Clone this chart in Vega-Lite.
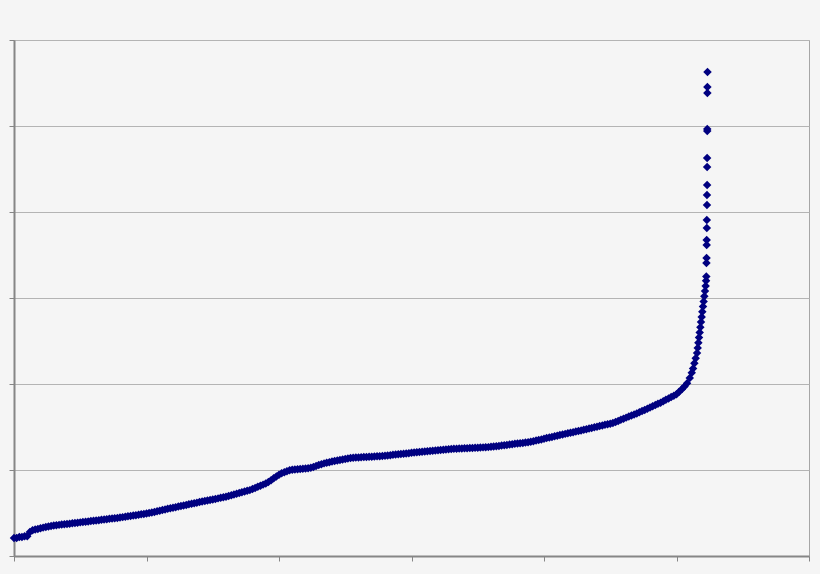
{
  "$schema": "https://vega.github.io/schema/vega-lite/v6.json",
  "width": 795,
  "height": 516,
  "autosize": {"type": "none"},
  "padding": {"left": 14, "top": 40, "right": 11, "bottom": 18},
  "background": "#f5f5f5",
  "config": {"view": {"stroke": "#a6a6a6", "strokeWidth": 1}},
  "data": {
    "values": [
      {"x":0.00,"y":0.21},{"x":0.02,"y":0.21},{"x":0.04,"y":0.22},{"x":0.06,"y":0.22},{"x":0.08,"y":0.23},{"x":0.10,"y":0.23},
      {"x":0.12,"y":0.28},{"x":0.14,"y":0.30},{"x":0.16,"y":0.308},{"x":0.18,"y":0.315},{"x":0.20,"y":0.322},{"x":0.22,"y":0.330},
      {"x":0.24,"y":0.337},{"x":0.26,"y":0.344},{"x":0.28,"y":0.350},{"x":0.30,"y":0.354},{"x":0.32,"y":0.358},{"x":0.34,"y":0.362},
      {"x":0.36,"y":0.365},{"x":0.38,"y":0.369},{"x":0.40,"y":0.373},{"x":0.42,"y":0.376},{"x":0.44,"y":0.380},{"x":0.46,"y":0.384},
      {"x":0.48,"y":0.387},{"x":0.50,"y":0.391},{"x":0.52,"y":0.395},{"x":0.54,"y":0.398},{"x":0.56,"y":0.402},{"x":0.58,"y":0.406},
      {"x":0.60,"y":0.410},{"x":0.62,"y":0.413},{"x":0.64,"y":0.417},{"x":0.66,"y":0.421},{"x":0.68,"y":0.424},{"x":0.70,"y":0.428},
      {"x":0.72,"y":0.432},{"x":0.74,"y":0.435},{"x":0.76,"y":0.439},{"x":0.78,"y":0.443},{"x":0.80,"y":0.447},{"x":0.82,"y":0.452},
      {"x":0.84,"y":0.457},{"x":0.86,"y":0.461},{"x":0.88,"y":0.466},{"x":0.90,"y":0.471},{"x":0.92,"y":0.475},{"x":0.94,"y":0.480},
      {"x":0.96,"y":0.485},{"x":0.98,"y":0.489},{"x":1.00,"y":0.494},{"x":1.02,"y":0.499},{"x":1.04,"y":0.505},{"x":1.06,"y":0.512},
      {"x":1.08,"y":0.520},{"x":1.10,"y":0.527},{"x":1.12,"y":0.534},{"x":1.14,"y":0.541},{"x":1.16,"y":0.549},{"x":1.18,"y":0.555},
      {"x":1.20,"y":0.562},{"x":1.22,"y":0.568},{"x":1.24,"y":0.575},{"x":1.26,"y":0.581},{"x":1.28,"y":0.588},{"x":1.30,"y":0.594},
      {"x":1.32,"y":0.601},{"x":1.34,"y":0.607},{"x":1.36,"y":0.614},{"x":1.38,"y":0.620},{"x":1.40,"y":0.627},{"x":1.42,"y":0.633},
      {"x":1.44,"y":0.639},{"x":1.46,"y":0.645},{"x":1.48,"y":0.651},{"x":1.50,"y":0.658},{"x":1.52,"y":0.664},{"x":1.54,"y":0.670},
      {"x":1.56,"y":0.676},{"x":1.58,"y":0.682},{"x":1.60,"y":0.689},{"x":1.62,"y":0.698},{"x":1.64,"y":0.707},{"x":1.66,"y":0.715},
      {"x":1.68,"y":0.724},{"x":1.70,"y":0.732},{"x":1.72,"y":0.741},{"x":1.74,"y":0.749},{"x":1.76,"y":0.758},{"x":1.78,"y":0.766},
      {"x":1.80,"y":0.779},{"x":1.82,"y":0.792},{"x":1.84,"y":0.805},{"x":1.86,"y":0.818},{"x":1.88,"y":0.830},{"x":1.90,"y":0.843},
      {"x":1.92,"y":0.861},{"x":1.94,"y":0.882},{"x":1.96,"y":0.903},{"x":1.98,"y":0.924},{"x":2.00,"y":0.945},{"x":2.02,"y":0.961},
      {"x":2.04,"y":0.973},{"x":2.06,"y":0.986},{"x":2.08,"y":0.998},{"x":2.10,"y":1.003},{"x":2.12,"y":1.006},{"x":2.14,"y":1.009},
      {"x":2.16,"y":1.012},{"x":2.18,"y":1.015},{"x":2.20,"y":1.018},{"x":2.22,"y":1.021},{"x":2.24,"y":1.026},{"x":2.26,"y":1.036},
      {"x":2.28,"y":1.047},{"x":2.30,"y":1.057},{"x":2.32,"y":1.067},{"x":2.34,"y":1.077},{"x":2.36,"y":1.085},{"x":2.38,"y":1.091},
      {"x":2.40,"y":1.098},{"x":2.42,"y":1.104},{"x":2.44,"y":1.110},{"x":2.46,"y":1.116},{"x":2.48,"y":1.123},{"x":2.50,"y":1.129},
      {"x":2.52,"y":1.135},{"x":2.54,"y":1.140},{"x":2.56,"y":1.142},{"x":2.58,"y":1.144},{"x":2.60,"y":1.146},{"x":2.62,"y":1.148},
      {"x":2.64,"y":1.150},{"x":2.66,"y":1.152},{"x":2.68,"y":1.153},{"x":2.70,"y":1.155},{"x":2.72,"y":1.157},{"x":2.74,"y":1.159},
      {"x":2.76,"y":1.161},{"x":2.78,"y":1.163},{"x":2.80,"y":1.166},{"x":2.82,"y":1.169},{"x":2.84,"y":1.172},{"x":2.86,"y":1.176},
      {"x":2.88,"y":1.179},{"x":2.90,"y":1.183},{"x":2.92,"y":1.186},{"x":2.94,"y":1.190},{"x":2.96,"y":1.193},{"x":2.98,"y":1.196},
      {"x":3.00,"y":1.200},{"x":3.02,"y":1.203},{"x":3.04,"y":1.206},{"x":3.06,"y":1.209},{"x":3.08,"y":1.212},{"x":3.10,"y":1.215},
      {"x":3.12,"y":1.218},{"x":3.14,"y":1.221},{"x":3.16,"y":1.224},{"x":3.18,"y":1.227},{"x":3.20,"y":1.230},{"x":3.22,"y":1.233},
      {"x":3.24,"y":1.236},{"x":3.26,"y":1.239},{"x":3.28,"y":1.242},{"x":3.30,"y":1.245},{"x":3.32,"y":1.246},{"x":3.34,"y":1.248},
      {"x":3.36,"y":1.249},{"x":3.38,"y":1.251},{"x":3.40,"y":1.252},{"x":3.42,"y":1.254},{"x":3.44,"y":1.255},{"x":3.46,"y":1.257},
      {"x":3.48,"y":1.258},{"x":3.50,"y":1.260},{"x":3.52,"y":1.262},{"x":3.54,"y":1.263},{"x":3.56,"y":1.265},{"x":3.58,"y":1.266},
      {"x":3.60,"y":1.269},{"x":3.62,"y":1.272},{"x":3.64,"y":1.276},{"x":3.66,"y":1.280},{"x":3.68,"y":1.284},{"x":3.70,"y":1.288},
      {"x":3.72,"y":1.292},{"x":3.74,"y":1.296},{"x":3.76,"y":1.300},{"x":3.78,"y":1.304},{"x":3.80,"y":1.308},{"x":3.82,"y":1.312},
      {"x":3.84,"y":1.315},{"x":3.86,"y":1.319},{"x":3.88,"y":1.323},{"x":3.90,"y":1.328},{"x":3.92,"y":1.335},{"x":3.94,"y":1.342},
      {"x":3.96,"y":1.349},{"x":3.98,"y":1.356},{"x":4.00,"y":1.363},{"x":4.02,"y":1.371},{"x":4.04,"y":1.378},{"x":4.06,"y":1.385},
      {"x":4.08,"y":1.392},{"x":4.10,"y":1.399},{"x":4.12,"y":1.406},{"x":4.14,"y":1.413},{"x":4.16,"y":1.420},{"x":4.18,"y":1.427},
      {"x":4.20,"y":1.433},{"x":4.22,"y":1.440},{"x":4.24,"y":1.447},{"x":4.26,"y":1.454},{"x":4.28,"y":1.460},{"x":4.30,"y":1.467},
      {"x":4.32,"y":1.474},{"x":4.34,"y":1.482},{"x":4.36,"y":1.489},{"x":4.38,"y":1.496},{"x":4.40,"y":1.503},{"x":4.42,"y":1.511},
      {"x":4.44,"y":1.518},{"x":4.46,"y":1.525},{"x":4.48,"y":1.532},{"x":4.50,"y":1.539},{"x":4.52,"y":1.547},{"x":4.54,"y":1.559},
      {"x":4.56,"y":1.571},{"x":4.58,"y":1.584},{"x":4.60,"y":1.596},{"x":4.62,"y":1.609},{"x":4.64,"y":1.621},{"x":4.66,"y":1.634},
      {"x":4.68,"y":1.646},{"x":4.70,"y":1.658},{"x":4.72,"y":1.671},{"x":4.74,"y":1.685},{"x":4.76,"y":1.699},{"x":4.78,"y":1.713},
      {"x":4.80,"y":1.727},{"x":4.82,"y":1.741},{"x":4.84,"y":1.755},{"x":4.86,"y":1.769},{"x":4.88,"y":1.783},{"x":4.90,"y":1.799},
      {"x":4.92,"y":1.816},{"x":4.94,"y":1.832},{"x":4.96,"y":1.848},{"x":4.98,"y":1.864},{"x":5.00,"y":1.88},{"x":5.02,"y":1.91},
      {"x":5.04,"y":1.94},{"x":5.06,"y":1.97},{"x":5.08,"y":2.01},{"x":5.10,"y":2.07},{"x":5.115,"y":2.13},{"x":5.125,"y":2.18},
      {"x":5.135,"y":2.24},{"x":5.145,"y":2.30},{"x":5.155,"y":2.36},{"x":5.16,"y":2.42},{"x":5.165,"y":2.48},{"x":5.17,"y":2.54},
      {"x":5.175,"y":2.60},{"x":5.18,"y":2.66},{"x":5.185,"y":2.72},{"x":5.19,"y":2.78},{"x":5.195,"y":2.84},{"x":5.20,"y":2.90},
      {"x":5.205,"y":2.96},{"x":5.21,"y":3.02},{"x":5.215,"y":3.08},{"x":5.22,"y":3.14},{"x":5.223,"y":3.20},{"x":5.225,"y":3.25},
      {"x":5.226,"y":3.407},{"x":5.227,"y":3.465},{"x":5.228,"y":3.616},{"x":5.228,"y":3.674},{"x":5.229,"y":3.814},{"x":5.229,"y":3.907},
      {"x":5.230,"y":4.081},{"x":5.230,"y":4.198},{"x":5.231,"y":4.314},{"x":5.231,"y":4.523},{"x":5.231,"y":4.628},{"x":5.232,"y":4.942},
      {"x":5.232,"y":4.965},{"x":5.233,"y":5.384},{"x":5.233,"y":5.453},{"x":5.234,"y":5.628}
    ]
  },
  "mark": {"type": "point", "shape": "diamond", "filled": true, "size": 72, "color": "#000080", "opacity": 1},
  "encoding": {
    "x": {
      "field": "x",
      "type": "quantitative",
      "scale": {"domain": [0, 6], "nice": false, "zero": false},
      "axis": {"values": [0, 1, 2, 3, 4, 5, 6], "labels": false, "title": null, "grid": false,
               "domainColor": "#868686", "domainWidth": 2, "tickColor": "#868686", "tickSize": 5}
    },
    "y": {
      "field": "y",
      "type": "quantitative",
      "scale": {"domain": [0, 6], "nice": false, "zero": false},
      "axis": {"values": [0, 1, 2, 3, 4, 5, 6], "labels": false, "title": null, "grid": true,
               "gridColor": "#b4b4b4", "domainColor": "#868686", "domainWidth": 2,
               "tickColor": "#868686", "tickSize": 5}
    }
  }
}
